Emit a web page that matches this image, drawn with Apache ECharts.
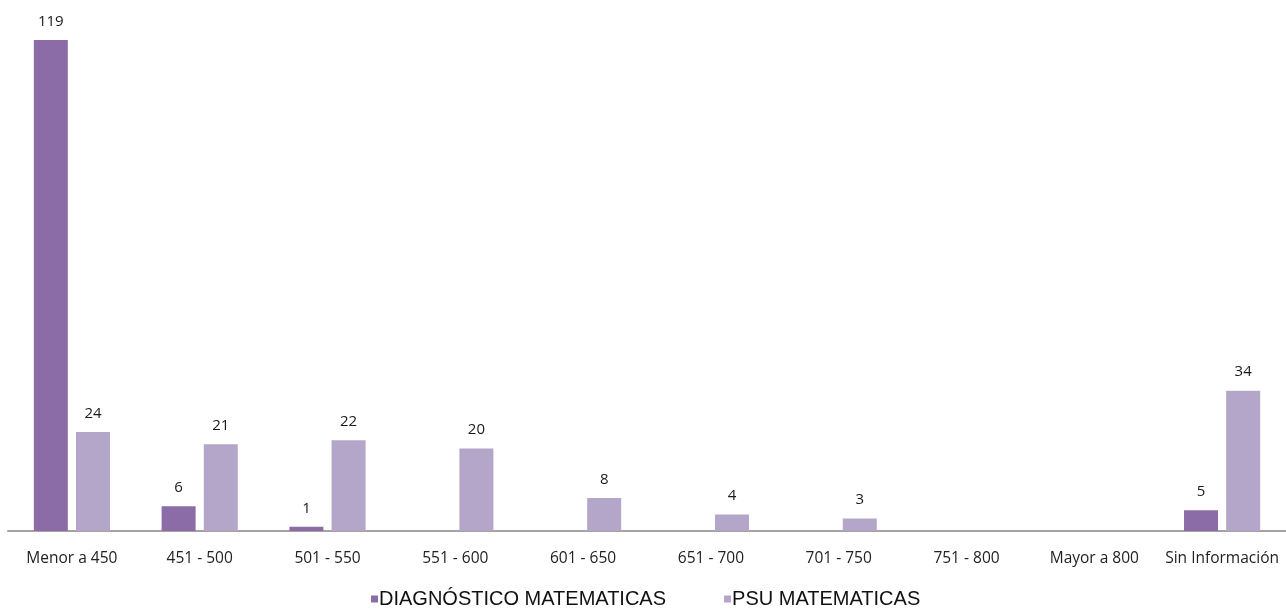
<!DOCTYPE html>
<html>
<head>
<meta charset="utf-8">
<script src="https://cdn.jsdelivr.net/npm/echarts@6/dist/echarts.min.js"></script>
<style>html,body{margin:0;padding:0;background:#fff}#c{width:1286px;height:613px}</style>
</head>
<body>
<div id="c"></div>
<script>
const categories = ["Menor a 450", "451 - 500", "501 - 550", "551 - 600", "601 - 650", "651 - 700", "701 - 750", "751 - 800", "Mayor a 800", "Sin Información"];
const diagnostico = [119, 6, 1, 0, 0, 0, 0, 0, 0, 5];
const psu = [24, 21, 22, 20, 8, 4, 3, 0, 0, 34];
const seriesNames = ["DIAGNÓSTICO MATEMATICAS", "PSU MATEMATICAS"];

const chart = echarts.init(document.getElementById('c'), null, {renderer: 'canvas'});
const labelCfg = {
  show: true, position: 'top', distance: 11,
  fontFamily: 'Open Sans', fontSize: 15, color: '#1a1a1a',
  formatter: p => p.value === 0 ? '' : String(p.value)
};
chart.setOption({
  animation: false,
  backgroundColor: '#fff',
  grid: {left: 8, right: 0, top: 40, bottom: 82, containLabel: false},
  legend: {
    bottom: -1, left: 366,
    itemWidth: 7, itemHeight: 7, itemGap: 58,
    icon: 'rect',
    textStyle: {fontFamily: 'Liberation Sans', fontSize: 20, color: '#111', padding: [0,0,0,-4]},
    data: seriesNames
  },
  xAxis: {
    type: 'category', data: categories,
    axisLine: {lineStyle: {color: '#a3a3a3', width: 2}},
    axisTick: {show: false},
    axisLabel: {fontFamily: 'Open Sans', fontSize: 15.5, color: '#222', margin: 20, interval: 0}
  },
  yAxis: {
    type: 'value', min: 0, max: 119,
    show: false, splitLine: {show: false}
  },
  series: [
    {name: seriesNames[0], type: 'bar', data: diagnostico, barWidth: 34, barGap: '24%',
     itemStyle: {color: '#8b6ca7'}, label: labelCfg},
    {name: seriesNames[1], type: 'bar', data: psu, barWidth: 34,
     itemStyle: {color: '#b3a6c9'}, label: labelCfg}
  ]
});
</script>
</body>
</html>
